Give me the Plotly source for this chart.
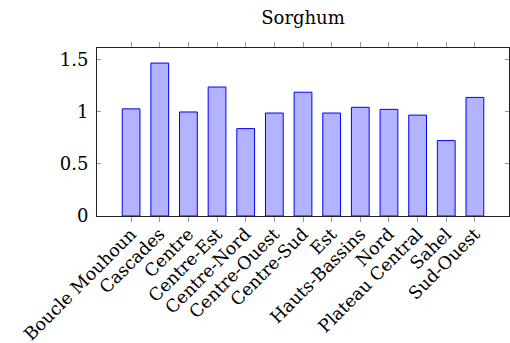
import plotly.graph_objects as go

# Sorghum figures by region
regions = ["Boucle Mouhoun", "Cascades", "Centre", "Centre-Est", "Centre-Nord",
           "Centre-Ouest", "Centre-Sud", "Est", "Hauts-Bassins", "Nord",
           "Plateau Central", "Sahel", "Sud-Ouest"]
values = [1.03, 1.47, 1.00, 1.24, 0.84, 0.99, 1.19, 0.99, 1.045, 1.025,
          0.97, 0.725, 1.14]
y_ticks = [0, 0.5, 1, 1.5]
y_tick_text = ["0", "0.5", "1", "1.5"]

FONT = "DejaVu Serif"
SIZE = 17.5

fig = go.Figure(
    go.Bar(
        x=regions,
        y=values,
        width=0.62,
        marker=dict(color="#b3b3ff", line=dict(color="#0000ff", width=1)),
    )
)

fig.update_layout(
    width=510,
    height=343,
    margin=dict(l=97, r=1, t=48, b=127),
    paper_bgcolor="white",
    plot_bgcolor="white",
    showlegend=False,
    font=dict(family=FONT, size=SIZE, color="black"),
    title=dict(text="Sorghum", x=0.5, xref="paper", xanchor="center",
               y=0.948, yref="container", yanchor="middle",
               font=dict(family=FONT, size=18, color="black")),
)

fig.update_xaxes(
    type="category",
    range=[-1.19, 13.19],
    tickangle=-45,
    ticks="outside",
    ticklen=5,
    tickwidth=1,
    tickcolor="#999999",
    showline=True,
    linecolor="#222222",
    linewidth=1,
    mirror="ticks",
    showgrid=False,
    automargin=False,
    ticklabelstandoff=-5,
    tickfont=dict(family=FONT, size=SIZE),
)

fig.update_yaxes(
    range=[0, 1.615],
    tickvals=y_ticks,
    ticktext=y_tick_text,
    ticks="inside",
    ticklen=4,
    tickwidth=1,
    tickcolor="#999999",
    showline=True,
    linecolor="#222222",
    linewidth=1,
    mirror="ticks",
    showgrid=False,
    zeroline=False,
    automargin=False,
    ticklabelstandoff=4,
    tickfont=dict(family=FONT, size=18),
)

fig.write_html("out.html")
